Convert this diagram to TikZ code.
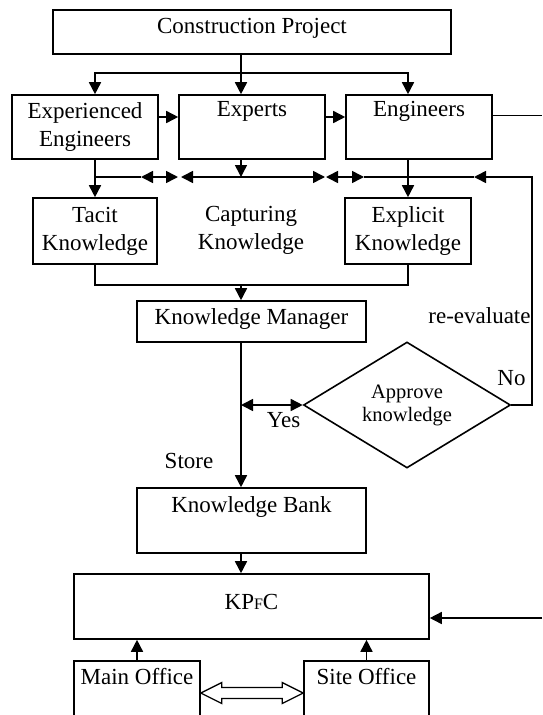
\documentclass[tikz,border=0pt]{standalone}
\usepackage{fontspec}
\setmainfont{Liberation Serif}
\usetikzlibrary{arrows.meta,shapes.geometric,calc}
\newcommand\bigtext{\fontsize{23}{28}\selectfont}
\newcommand\midtext{\fontsize{20.5}{23}\selectfont}

\begin{document}
\begin{tikzpicture}[x=1pt,y=-1pt,
  line width=1.6pt,
  tipA/.tip={Triangle[length=12pt,width=12pt]},
  arr/.style={-tipA},
  darr/.style={tipA-tipA},
  box/.style={draw, rectangle, inner sep=2pt, align=center, font=\bigtext},
  intext/.style={anchor=base, font=\bigtext, inner sep=0pt},
  txt/.style={font=\bigtext, inner sep=0pt, align=center},
]
\useasboundingbox (0,0) rectangle (542,715);
\fill[white] (0,0) rectangle (542,715);
\clip (0,0) rectangle (542,715);

% boxes
\node[box, minimum width=398, minimum height=44,
  label={[intext,yshift=-24.6pt]north:Construction Project}] (cp) at (252,32) {};
\node[box, minimum width=146, minimum height=64] (ee) at (85,127) {Experienced\\Engineers};
\node[box, minimum width=146, minimum height=64,
  label={[intext,yshift=-22pt]north:Experts}] (ex) at (252,127) {};
\node[box, minimum width=146, minimum height=64,
  label={[intext,yshift=-22pt]north:Engineers}] (en) at (419,127) {};
\node[box, minimum width=124, minimum height=66] (tk) at (95,231) {Tacit\\Knowledge};
\node[box, minimum width=126, minimum height=66] (xk) at (408,231) {Explicit\\Knowledge};
\node[txt] (capt) at (251,230) {Capturing\\Knowledge};
\node[box, minimum width=229, minimum height=41,
  label={[intext,yshift=-24pt]north:Knowledge Manager}] (km) at (251.5,321.5) {};
\node[draw, diamond, aspect=1.64, minimum width=207, minimum height=126,
  inner sep=0pt, align=center, font=\midtext] (ap) at (407,405) {Approve\\knowledge};
\node[box, minimum width=229, minimum height=65,
  label={[intext,yshift=-25pt]north:Knowledge Bank}] (kb) at (251.5,520.5) {};
\node[box, minimum width=355, minimum height=65,
  label={[intext,yshift=-36pt]north:KP{\fontsize{16}{16}\selectfont F}C}] (kpfc) at (251.5,606.5) {};
\node[box, minimum width=126, minimum height=64,
  label={[intext,yshift=-24pt]north:Main Office}] (mo) at (137,693) {};
\node[box, minimum width=125, minimum height=64,
  label={[intext,yshift=-24pt]north:Site Office}] (so) at (366.5,693) {};

% free labels
\node[txt, anchor=base] (reev) at (479.5,323) {re-evaluate};
\node[txt, anchor=base] (no) at (511.5,385) {No};
\node[txt, anchor=base] (yes) at (283.5,427) {Yes};
\node[txt, anchor=base] (store) at (189,468) {Store};

% fork from the project to the three groups
\coordinate (fork) at (241,73);
\draw (cp.south -| fork) -- (fork);
\draw[arr] (fork) -| (ee.north -| tk.north);
\draw[arr] (fork) -| (en.north -| xk.north);
\draw[arr] (fork) -- (fork |- ex.north);
\draw[arr] ([yshift=10pt]ee.east) -- ([yshift=10pt]ex.west);
\draw[arr] ([yshift=10pt]ex.east) -- ([yshift=10pt]en.west);
\coordinate (enout) at (542,115.5);
\draw (en.east |- enout) -- (enout);

% knowledge capturing bus
\coordinate (bus) at (241,177);
\coordinate (b1) at (141,177);
\coordinate (b2) at (178,177);
\coordinate (b3) at (181,177);
\coordinate (b4) at (325,177);
\coordinate (b5) at (326,177);
\coordinate (b6) at (364,177);
\coordinate (b7) at (474,177);
\coordinate (loop) at (532,177);
\draw[arr] (tk.north |- ee.south) -- (tk.north);
\draw[arr] (xk.north |- en.south) -- (xk.north);
\draw[arr] (fork |- ex.south) -- (bus);
\draw (tk.north |- bus) -- (b1);
\draw[darr] (b1) -- (b2);
\draw[darr] (b3) -- (b4);
\draw[darr] (b5) -- (b6);
\draw (b6) -- (b7);
\draw[arr] (ap.east) -| (loop) -- (b7);

% collecting into the knowledge manager
\coordinate (join) at (241,285);
\draw (tk.south) |- (join) -| (xk.south);
\draw[arr] (join) -- (join |- km.north);
\draw[arr] (km.south -| join) -- (kb.north -| join);
\draw[darr] (ap.west -| join) -- (ap.west);
\draw[arr] (kb.south -| join) -- (kpfc.north -| join);

% inputs to KPFC
\coordinate (kin) at (542,618);
\draw[arr] (kin) -- (kin -| kpfc.east);
\draw[arr] (mo.north) -- (mo.north |- kpfc.south);
\draw[arr] (so.north) -- (so.north |- kpfc.south);

% hollow two-way arrow between the offices
\draw[line width=1.3pt, fill=white] (mo.east) -- ++(21,-10.5) -- ++(0,5)
  -- ($(so.west)+(-21,-5.5)$) -- ++(0,-5) -- (so.west) -- ++(-21,10.5)
  -- ++(0,-5) -- ($(mo.east)+(21,5.5)$) -- ++(0,5) -- cycle;
\end{tikzpicture}
\end{document}
